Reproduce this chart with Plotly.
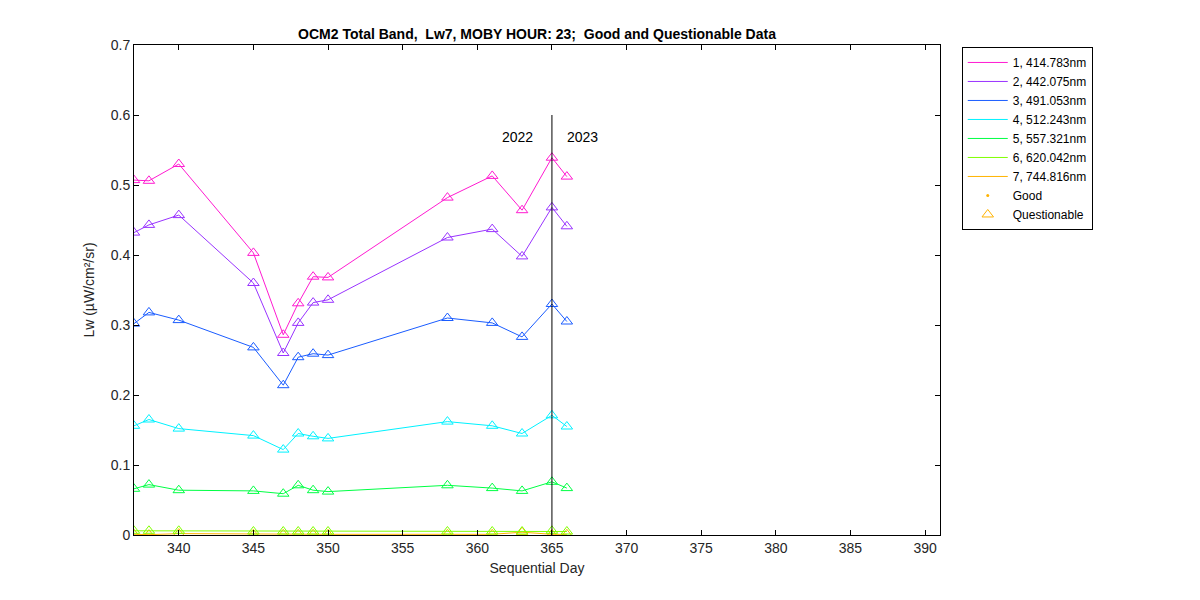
import plotly.graph_objects as go

days = [337, 338, 340, 345, 347, 348, 349, 350, 358, 361, 363, 365, 366]

band_labels = ["1, 414.783nm", "2, 442.075nm", "3, 491.053nm", "4, 512.243nm",
               "5, 557.321nm", "6, 620.042nm", "7, 744.816nm"]
band_colors = ["#ff1ad1", "#9933ff", "#1a5cff", "#00f2ff", "#00ff44", "#80ff00", "#ffb300"]

lw1 = [0.507, 0.506, 0.530, 0.403, 0.286, 0.331, 0.369, 0.368, 0.482, 0.513, 0.464, 0.539, 0.512]
lw2 = [0.432, 0.443, 0.457, 0.360, 0.260, 0.303, 0.332, 0.336, 0.425, 0.437, 0.398, 0.468, 0.441]
lw3 = [0.302, 0.318, 0.307, 0.268, 0.214, 0.254, 0.259, 0.257, 0.310, 0.303, 0.283, 0.330, 0.305]
lw4 = [0.156, 0.165, 0.152, 0.142, 0.122, 0.145, 0.141, 0.138, 0.162, 0.156, 0.145, 0.171, 0.155]
lw5 = [0.066, 0.072, 0.064, 0.063, 0.059, 0.071, 0.064, 0.062, 0.071, 0.067, 0.063, 0.076, 0.067]
lw6 = [0.006, 0.006, 0.006, 0.005, 0.005, 0.005, 0.005, 0.005, 0.005, 0.005, 0.005, 0.006, 0.005]
lw7 = [0.001, 0.0005, 0.002, 0.001, 0.001, 0.001, 0.001, 0.001, 0.001, 0.001, 0.004, 0.001, 0.001]
series = [lw1, lw2, lw3, lw4, lw5, lw6, lw7]

year_boundary_day = 365
year_line_top = 0.6
year_label_y = 0.568

FONT = "Liberation Sans, Arial, sans-serif"

fig = go.Figure()

# draw from last band to first so the top bands are on top
for vals, col in reversed(list(zip(series, band_colors))):
    fig.add_trace(go.Scatter(
        x=days, y=vals, mode="lines+markers",
        line=dict(color=col, width=1),
        marker=dict(symbol="triangle-up-open", size=10, color=col, line=dict(width=1, color=col)),
        showlegend=False, hoverinfo="x+y"))

for lab, col in zip(band_labels, band_colors):
    fig.add_trace(go.Scatter(x=[None], y=[None], mode="lines", name=lab,
                             line=dict(color=col, width=1)))
fig.add_trace(go.Scatter(x=[None], y=[None], mode="markers", name="Good",
                         marker=dict(symbol="circle", size=3, color="#ffb300")))
fig.add_trace(go.Scatter(x=[None], y=[None], mode="markers", name="Questionable",
                         marker=dict(symbol="triangle-up-open", size=10, color="#ffb300",
                                     line=dict(width=1, color="#ffb300"))))

fig.add_shape(type="line", xref="x", yref="y", x0=year_boundary_day, x1=year_boundary_day,
              y0=0, y1=year_line_top, line=dict(color="black", width=1))
fig.add_annotation(x=year_boundary_day, y=year_label_y, xref="x", yref="y", text="2022",
                   showarrow=False, xanchor="right", xshift=-17,
                   font=dict(family=FONT, size=14, color="black"))
fig.add_annotation(x=year_boundary_day, y=year_label_y, xref="x", yref="y", text="2023",
                   showarrow=False, xanchor="left", xshift=13,
                   font=dict(family=FONT, size=14, color="black"))

axis_common = dict(showline=True, linecolor="black", linewidth=1, mirror="ticks",
                   ticks="inside", ticklen=5, tickcolor="black", showgrid=False,
                   zeroline=False, tickfont=dict(family=FONT, size=14, color="#262626"))

fig.update_layout(
    width=1200, height=600,
    paper_bgcolor="white", plot_bgcolor="white",
    margin=dict(l=126, r=268, t=37, b=73),
    title=dict(text="<b>OCM2 Total Band,  Lw7, MOBY HOUR: 23;  Good and Questionable Data</b>",
               x=(126 + 932) / 2 / 1200, xanchor="center", y=1 - 26 / 600, yanchor="middle",
               font=dict(family=FONT, size=14, color="black")),
    xaxis=dict(range=[337, 391], tickvals=list(range(340, 391, 5)),
               title=dict(text="Sequential Day", font=dict(family=FONT, size=14, color="#262626"),
                          standoff=8),
               **axis_common),
    yaxis=dict(range=[0, 0.7], tickvals=[0, 0.1, 0.2, 0.3, 0.4, 0.5, 0.6, 0.7],
               ticktext=["0", "0.1", "0.2", "0.3", "0.4", "0.5", "0.6", "0.7"],
               title=dict(text="Lw (µW/cm²/sr)", font=dict(family=FONT, size=14, color="#262626"),
                          standoff=12),
               **axis_common),
    legend=dict(x=1.027, y=0.996, xanchor="left", yanchor="top",
                bordercolor="black", borderwidth=1, bgcolor="white",
                font=dict(family=FONT, size=12, color="black"),
                tracegroupgap=0, itemwidth=40),
    showlegend=True,
)

fig.write_html("out.html")
